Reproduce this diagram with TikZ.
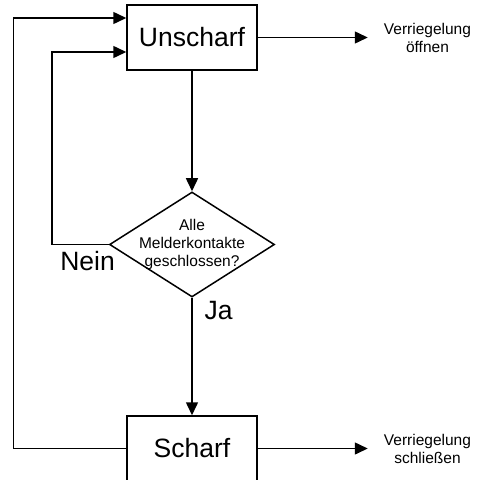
\documentclass[tikz,border=0pt]{standalone}
\usepackage{fontspec}
\setmainfont{Liberation Sans}
\usetikzlibrary{arrows.meta,positioning,shapes.geometric}

\begin{document}
\begin{tikzpicture}[x=1pt,y=-1pt,
  state/.style={draw,line width=1.5pt,minimum width=130pt,minimum height=65pt,inner sep=0pt,font=\fontsize{26.5}{30}\selectfont},
  check/.style={draw,line width=1.5pt,diamond,aspect=1.57,inner sep=-6pt,minimum width=165pt,minimum height=105pt,align=center,font=\fontsize{15.5}{18}\selectfont},
  arr/.style={-{Triangle[length=13pt,width=12pt]},line width=1.5pt},
  note/.style={font=\fontsize{15.5}{18}\selectfont,align=center,inner sep=0pt},
  answer/.style={font=\fontsize{26.5}{30}\selectfont,inner sep=0pt}
]
  \useasboundingbox (0,0) rectangle (484,479);
  \clip (0,0) rectangle (484,479);
  \node[state] (unscharf) at (192,37.5) {Unscharf};
  \node[check] (alle) at (192,244.5) {Alle\\Melderkontakte\\geschlossen?};
  \node[state] (scharf) at (192,448.5) {Scharf};
  \node[note,right=126pt of unscharf] (oeffnen) {Verriegelung\\öffnen};
  \node[note,right=126pt of scharf] (schliessen) {Verriegelung\\schließen};
  \node[answer] (nein) at (87.5,261) {Nein};
  \node[answer] (ja) at (218.5,311) {Ja};
  \draw[arr] (unscharf) -- (alle);
  \draw[arr] (alle) -- (scharf);
  \draw[arr,shorten >=16pt] (unscharf) -- (oeffnen);
  \draw[arr,shorten >=16pt] (scharf) -- (schliessen);
  % back to Unscharf
  \draw[arr] (alle.west) -- ++(-57,0) |- ([yshift=-14.5pt]unscharf.west);
  \draw[arr] (scharf.west) -- ++(-113,0) |- ([yshift=19.5pt]unscharf.west);
\end{tikzpicture}
\end{document}
